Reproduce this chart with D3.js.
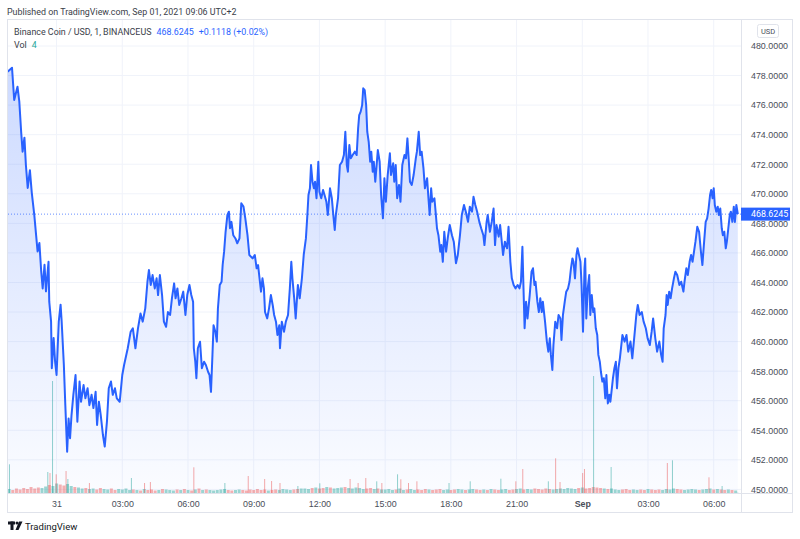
<!DOCTYPE html>
<html>
<head>
<meta charset="utf-8">
<script src="https://cdn.jsdelivr.net/npm/d3@7"></script>
<style>
body{margin:0;background:#fff}
svg{display:block;font-family:Roboto,"Liberation Sans",Arial,sans-serif}
</style>
</head>
<body>
<svg width="800" height="539"></svg>
<script>
// BNB/USD 1 minute closes, minutes counted from 2021-08-30 21:46 UTC
const start = Date.UTC(2021, 7, 30, 21, 46)
const minutes = [
0,12,18,27,32,37,41,46,50,55,
61,66,73,78,82,87,92,96,101,105,
112,114,119,121,126,130,134,140,145,148,
154,158,163,167,171,175,180,186,191,197,
201,208,213,219,224,230,235,241,245,250,
255,261,266,272,277,283,288,294,299,307,
314,319,329,337,343,350,357,364,370,377,
383,387,392,397,403,408,412,417,423,428,
434,439,445,450,456,460,465,470,476,481,
487,492,498,503,508,510,514,517,521,527,
532,538,543,549,553,557,561,564,569,573,
576,581,586,589,593,597,602,606,609,613,
618,624,629,635,640,646,651,657,662,671,
677,682,686,691,694,698,702,705,711,716,
721,726,730,735,739,744,746,751,757,762,
768,773,777,780,785,789,795,800,806,811,
817,821,824,828,831,835,839,842,846,851,
854,859,864,868,873,877,883,888,892,896,
899,905,910,916,921,925,929,932,936,940,
945,951,956,960,963,967,971,974,978,982,
985,989,993,996,1000,1003,1007,1014,1019,1023,
1028,1032,1036,1041,1047,1050,1056,1059,1063,1067,
1072,1076,1081,1087,1091,1095,1099,1102,1107,1112,
1118,1121,1126,1130,1134,1139,1143,1149,1152,1156,
1160,1163,1169,1173,1176,1180,1185,1188,1192,1196,
1201,1206,1211,1217,1222,1228,1233,1239,1244,1250,
1255,1261,1266,1272,1276,1281,1286,1292,1297,1303,
1306,1312,1315,1321,1326,1331,1335,1339,1345,1349,
1357,1362,1368,1372,1377,1381,1386,1391,1397,1402,
1406,1410,1413,1416,1420,1424,1430,1435,1439,1443,
1446,1451,1455,1459,1463,1466,1472,1477,1481,1485,
1488,1492,1495,1500,1505,1509,1514,1517,1521,1526,
1530,1535,1539,1543,1547,1550,1554,1558,1561,1565,
1569,1572,1576,1580,1582,1585,1589,1593,1596,1600,
1604,1607,1611,1615,1618,1622,1625,1629,1633,1637,
1640,1644,1648,1651,1655,1658,1662,1666,1669,1673,
1677,1684,1690,1695,1700,1706,1711,1717,1722,1726,
1731,1737,1742,1748,1753,1759,1764,1768,1774,1779,
1785,1790,1794,1797,1802,1805,1808,1812,1816,1820,
1825,1829,1834,1840,1845,1851,1854,1859,1863,1868,
1872,1876,1880,1884,1889,1894,1899,1903,1907,1912,
1916,1920,1924,1927,1931,1934,1937,1941,1945,1948,
1952,1956,1959,1963,1967,1970,1974,1978,1981,1985,
1989,1992,1996,2000]
const prices = [
478.26,478.53,476.35,477.25,476.23,474.20,472.85,473.80,471.95,470.40,
471.60,470.10,468.57,467.20,466.10,466.67,464.73,463.60,465.20,463.40,
465.40,462.70,461.35,458.20,460.24,458.64,457.74,461.35,462.50,461.35,
458.42,455.70,452.55,454.80,453.46,455.03,456.40,457.74,454.58,457.30,
455.93,457.06,456.16,456.84,455.70,456.40,455.50,456.60,454.36,455.93,
455.03,453.68,452.90,454.58,456.84,457.30,456.40,456.84,456.16,455.93,
457.74,458.42,459.55,460.67,460.90,459.55,460.90,461.90,461.35,462.25,
464.05,464.84,463.83,464.50,463.60,464.28,463.15,464.50,463.15,461.35,
461.00,462.00,461.80,462.93,463.94,462.93,463.60,462.48,462.93,463.38,
461.80,463.15,463.83,463.15,462.70,459.55,458.64,457.52,459.55,459.99,
458.20,458.64,458.42,457.96,457.74,456.60,459.10,461.10,460.67,460.00,
462.25,463.83,464.05,465.20,466.10,467.43,468.57,468.79,467.67,468.10,
467.20,466.98,466.65,466.98,469.36,469.13,468.34,467.20,465.86,465.63,
465.86,464.96,465.18,464.05,463.38,464.28,463.60,462.00,461.57,462.25,
463.15,462.48,461.80,461.35,460.45,461.10,459.55,461.35,460.67,461.35,
461.80,463.60,465.40,464.28,462.93,461.57,463.83,462.93,464.28,465.86,
466.98,468.57,469.92,470.37,471.95,470.82,470.37,470.82,469.70,472.17,
470.14,469.70,470.26,469.92,469.47,468.57,470.37,469.70,468.57,467.55,
468.57,469.70,471.95,472.17,472.62,474.20,471.95,471.50,473.30,472.40,
472.62,472.85,472.62,474.43,475.33,475.56,476.00,477.14,477.02,476.00,
474.20,473.52,472.17,472.85,471.50,472.17,470.82,472.96,472.17,469.92,
468.34,471.05,469.47,471.27,472.74,471.27,472.06,470.82,471.95,469.70,
470.60,469.47,471.95,472.62,472.40,473.75,472.17,470.82,470.60,471.27,
472.40,472.85,474.20,472.62,472.85,471.73,470.37,471.05,469.92,468.57,
470.37,469.47,469.70,468.57,467.67,467.20,466.08,466.53,465.40,467.43,
466.08,467.10,467.89,467.20,466.76,465.30,465.86,467.20,468.57,469.24,
468.79,468.10,469.13,468.79,469.80,469.24,468.79,468.10,467.67,467.20,
466.53,468.10,468.57,467.43,468.10,469.00,466.53,467.89,467.10,467.89,
465.86,466.76,466.31,467.77,465.40,464.28,463.83,463.60,463.83,463.60,
464.05,466.42,463.60,460.90,462.70,461.57,463.15,464.73,464.96,463.83,
464.05,462.70,462.00,462.93,462.00,462.70,461.35,460.00,459.32,460.22,
459.10,458.08,459.77,461.35,460.90,461.80,461.57,460.11,461.80,462.70,
463.38,463.60,464.05,464.96,465.63,465.40,464.28,465.86,466.31,465.86,
465.40,463.83,460.67,464.96,465.63,461.57,463.60,464.50,461.80,463.15,
462.00,462.25,460.90,460.45,459.10,458.64,457.96,457.30,457.52,456.16,
457.74,455.82,456.40,455.93,456.84,457.52,458.20,458.64,456.84,458.20,
458.87,460.45,460.00,460.45,459.32,460.00,458.87,460.45,461.80,462.48,
461.80,462.00,461.35,460.90,460.22,459.77,460.67,461.57,460.22,459.32,
460.00,459.10,458.64,460.90,461.80,463.15,462.48,463.38,462.93,463.60,
464.28,464.73,464.50,463.83,464.05,463.38,464.05,464.96,464.50,465.40,
465.86,465.40,466.08,466.76,467.77,467.43,466.08,465.18,466.53,468.10,
468.34,469.00,469.92,470.26,469.70,470.37,469.24,468.79,469.13,468.57,
469.00,467.67,467.20,467.43,466.31,466.76,467.67,468.57,468.79,468.10,
469.13,468.10,469.24,468.6245]

// large volume bars (minute, volume, 1 = up candle)
const spikeMinutes = [5,110,116,123,133,160,165,224,339,375,391,510,595,659,704,723,746,795,855,938,960,981,1011,1025,1068,1077,1098,1121,1209,1267,1351,1392,1411,1481,1501,1513,1575,1580,1605,1653,1807,1821,1921,1957,2000]
const spikeVols = [287,210,200,1120,187,220,140,100,150,100,110,257,100,170,140,120,100,70,97,140,100,150,117,100,187,137,100,117,100,117,143,117,240,117,347,110,200,240,1170,260,300,327,157,70,4]
const spikeUp = [1,1,0,1,0,0,1,0,1,0,0,0,1,0,0,0,0,1,1,0,0,0,1,0,1,0,0,0,1,1,1,0,0,1,0,0,0,0,1,1,0,1,0,1,1]
// background volume, 10 minute bins
const baseVols = [
40,30,45,35,50,40,60,45,55,50,65,80,70,95,85,75,90,70,60,
55,45,50,40,45,35,50,40,35,45,30,40,35,45,30,
35,30,25,40,30,35,25,30,40,35,30,25,35,30,40,30,25,35,45,30,35,30,25,30,35,40,30,25,30,35,30,25,35,30,40,30,35,25,30,35,30,40,35,30,35,40,45,
45,40,50,55,45,50,60,55,45,50,55,60,50,45,55,50,40,45,50,40,45,35,
35,40,30,35,45,30,35,40,30,35,30,40,35,30,35,40,30,35,30,35,40,35,30,35,40,35,30,35,30,40,35,30,35,40,30,35,40,45,35,40,35,45,40,35,45,40,35,40,
45,40,50,45,40,50,55,45,50,60,55,50,45,40,45,
35,30,35,40,30,35,30,35,30,40,35,30,35,30,40,35,45,40,35,30,35,40,35,30,35,40,45,35,40,35,30,35,30,25]

const priceTicks = d3.range(450, 481, 2)
const timeTicks = ["2021-08-31T00:00Z","2021-08-31T03:00Z","2021-08-31T06:00Z","2021-08-31T09:00Z","2021-08-31T12:00Z","2021-08-31T15:00Z","2021-08-31T18:00Z","2021-08-31T21:00Z","2021-09-01T00:00Z","2021-09-01T03:00Z","2021-09-01T06:00Z"].map(s => new Date(s))
const lastPrice = 468.6245

const pL = 8, pR = 741, pT = 20, pB = 493
const blue = "#2962ff", upCol = "#26a69a", downCol = "#ef5350"
const fs = 8.9
const svg = d3.select("svg")

const x = d3.scaleUtc().domain([Date.UTC(2021, 7, 30, 21, 47), Date.UTC(2021, 8, 1, 7, 12)]).range([pL, pR - 1])
const y = d3.scaleLinear().domain([450, 480]).range([489.4, 46])
const vy = d3.scaleLinear().domain([0, d3.max(spikeVols)]).range([pB, pB - 117])
const toDate = m => new Date(start + m * 60000)

const data = minutes.map((m, i) => ({t: toDate(m), p: prices[i]}))
const bis = d3.bisector(d => d).left
const priceAt = m => prices[Math.min(prices.length - 1, bis(minutes, m))]

const defs = svg.append("defs")
defs.append("clipPath").attr("id", "clip").append("rect")
	.attr("x", pL).attr("y", pT).attr("width", pR - pL).attr("height", pB - pT)
const grad = defs.append("linearGradient").attr("id", "fillGrad")
	.attr("gradientUnits", "userSpaceOnUse").attr("x1", 0).attr("x2", 0).attr("y1", pT).attr("y2", pB)
grad.append("stop").attr("offset", 0).attr("stop-color", blue).attr("stop-opacity", 0.26)
grad.append("stop").attr("offset", 1).attr("stop-color", blue).attr("stop-opacity", 0.02)

// grid
svg.append("g").selectAll("line").data(priceTicks).enter().append("line")
	.attr("x1", pL).attr("x2", pR).attr("y1", d => y(d)).attr("y2", d => y(d))
	.attr("stroke", "#f0f3fa")
svg.append("g").selectAll("line").data(timeTicks).enter().append("line")
	.attr("x1", d => x(d)).attr("x2", d => x(d)).attr("y1", pT).attr("y2", pB)
	.attr("stroke", "#f0f3fa")

const plot = svg.append("g").attr("clip-path", "url(#clip)")

// volume
plot.append("g").selectAll("rect").data(baseVols).enter().append("rect")
	.attr("x", (d, i) => x(toDate(i * 10)))
	.attr("width", 3)
	.attr("y", d => vy(d))
	.attr("height", d => pB - vy(d))
	.attr("fill", (d, i) => priceAt(i * 10 + 10) >= priceAt(i * 10) ? upCol : downCol)
	.attr("opacity", 0.45)
plot.append("g").selectAll("rect").data(spikeVols).enter().append("rect")
	.attr("x", (d, i) => x(toDate(spikeMinutes[i])) - 0.5)
	.attr("width", 1)
	.attr("y", d => vy(d))
	.attr("height", d => pB - vy(d))
	.attr("fill", (d, i) => spikeUp[i] ? upCol : downCol)
	.attr("opacity", 0.5)

// price area + line
plot.append("path").datum(data)
	.attr("d", d3.area().x(d => x(d.t)).y0(pB).y1(d => y(d.p)))
	.attr("fill", "url(#fillGrad)")
plot.append("path").datum(data)
	.attr("d", d3.line().x(d => x(d.t)).y(d => y(d.p)))
	.attr("fill", "none").attr("stroke", blue).attr("stroke-width", 2).attr("stroke-linejoin", "round")

svg.append("line").attr("x1", pL).attr("x2", pR).attr("y1", y(lastPrice)).attr("y2", y(lastPrice))
	.attr("stroke", blue).attr("stroke-dasharray", "1,2").attr("opacity", 0.7)

// frame
svg.append("rect").attr("x", 7.5).attr("y", 19.5).attr("width", 785).attr("height", 493)
	.attr("fill", "none").attr("stroke", "#e0e3eb")
svg.append("line").attr("x1", pR + 0.5).attr("x2", pR + 0.5).attr("y1", 20).attr("y2", 512).attr("stroke", "#e0e3eb")
svg.append("line").attr("x1", 7).attr("x2", 792).attr("y1", pB + 0.5).attr("y2", pB + 0.5).attr("stroke", "#e0e3eb")

// axes
const yAxis = d3.axisRight(y).tickValues(priceTicks).tickFormat(d3.format(".4f")).tickSize(0).tickPadding(10)
const yG = svg.append("g").attr("transform", `translate(${pR},0)`).call(yAxis)
yG.select(".domain").remove()
yG.selectAll("text").attr("fill", "#4a4e59").attr("font-size", fs).attr("font-family", null)

const xAxis = d3.axisBottom(x).tickValues(timeTicks).tickSize(0).tickPadding(8)
	.tickFormat(d => d.getUTCHours() == 0 ? (d.getUTCDate() == 1 ? "Sep" : String(d.getUTCDate())) : d3.utcFormat("%H:%M")(d))
const xG = svg.append("g").attr("transform", `translate(0,${pB})`).call(xAxis)
xG.select(".domain").remove()
xG.selectAll("text").attr("fill", "#4a4e59").attr("font-size", fs).attr("font-family", null)
	.attr("font-weight", d => d.getUTCHours() == 0 && d.getUTCDate() == 1 ? "bold" : null)

// last price label
svg.append("rect").attr("x", pR).attr("y", y(lastPrice) - 6.5).attr("width", 49).attr("height", 13).attr("fill", blue)
svg.append("text").attr("x", pR + 10).attr("y", y(lastPrice)).attr("dy", "0.35em")
	.attr("fill", "#fff").attr("font-size", fs).text(d3.format(".4f")(lastPrice))

// USD badge
svg.append("rect").attr("x", 757.5).attr("y", 24.5).attr("width", 21).attr("height", 13).attr("rx", 2)
	.attr("fill", "#fff").attr("stroke", "#e0e3eb")
svg.append("text").attr("x", 768).attr("y", 31).attr("dy", "0.35em").attr("text-anchor", "middle")
	.attr("font-size", 7.5).attr("fill", "#4a4e59").text("USD")

// header, legend, footer
svg.append("text").attr("x", 7).attr("y", 14.5).attr("font-size", fs).attr("fill", "#3a3e49")
	.text("Published on TradingView.com, Sep 01, 2021 09:06 UTC+2")
const leg = svg.append("text").attr("x", 14).attr("y", 34.5).attr("font-size", fs)
leg.append("tspan").attr("fill", "#3a3e49").text("Binance Coin / USD, 1, BINANCEUS")
leg.append("tspan").attr("dx", 5).attr("fill", blue).text(d3.format(".4f")(lastPrice))
leg.append("tspan").attr("dx", 5).attr("fill", blue).text("+0.1118 (+0.02%)")
const vol = svg.append("text").attr("x", 14).attr("y", 47.5).attr("font-size", fs)
vol.append("tspan").attr("fill", "#3a3e49").text("Vol")
vol.append("tspan").attr("dx", 5).attr("fill", upCol).text(spikeVols[spikeVols.length - 1])

const logo = svg.append("g").attr("fill", "#131722")
logo.append("rect").attr("x", 8).attr("y", 521.5).attr("width", 7).attr("height", 3)
logo.append("rect").attr("x", 10.5).attr("y", 521.5).attr("width", 3).attr("height", 8.5)
logo.append("circle").attr("cx", 17).attr("cy", 523).attr("r", 1.5)
logo.append("polygon").attr("points", "19,521.5 22.5,521.5 18.5,530 15.5,530")
svg.append("text").attr("x", 25).attr("y", 529.5).attr("font-size", 9.5).attr("fill", "#131722").text("TradingView")
</script>
</body>
</html>
